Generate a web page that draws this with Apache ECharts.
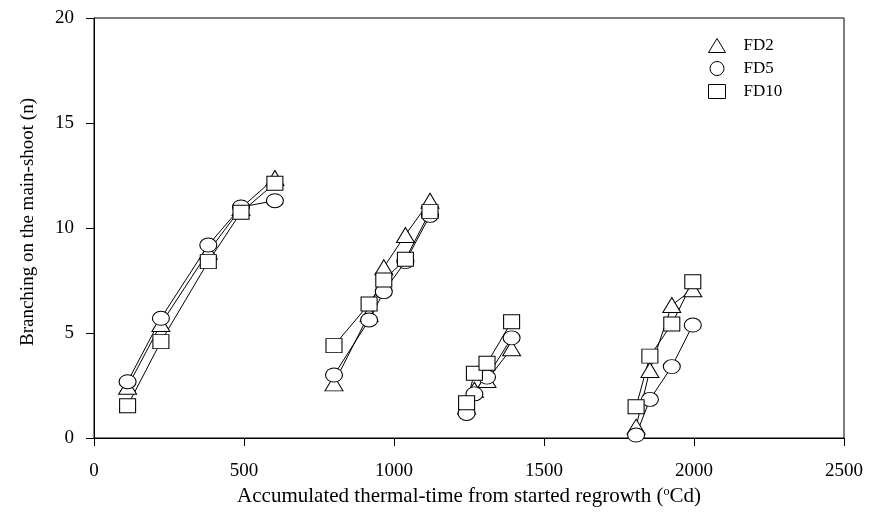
<!DOCTYPE html>
<html>
<head>
<meta charset="utf-8">
<script src="https://cdn.jsdelivr.net/npm/echarts@6/dist/echarts.min.js"></script>
<style>html,body{margin:0;padding:0;background:#fff}#c{width:869px;height:516px}</style>
</head>
<body>
<div id="c"></div>
<script>
// Accumulated thermal time (°Cd) for each regrowth cycle
const cycleX = [
  [112, 223, 381, 490, 603],
  [800, 917, 966, 1038, 1120],
  [1242, 1268, 1310, 1392],
  [1807, 1853, 1926, 1996]
];
// Branching on the main shoot (n)
const fd2 = [
  [2.44, 5.43, 8.87, 10.95, 12.38],
  [2.60, 5.90, 8.13, 9.67, 11.30],
  [1.50, 2.30, 2.76, 4.27],
  [0.54, 3.24, 6.33, 7.08]
];
const fd5 = [
  [2.68, 5.70, 9.19, 11.00, 11.30],
  [3.00, 5.62, 6.97, 8.40, 10.60],
  [1.17, 2.10, 2.90, 4.77],
  [0.14, 1.84, 3.40, 5.38]
];
const fd10 = [
  [1.54, 4.59, 8.40, 10.75, 12.13],
  [4.40, 6.38, 7.52, 8.51, 10.78],
  [1.68, 3.08, 3.56, 5.54],
  [1.49, 3.90, 5.43, 7.44]
];
const xTicks = [0, 500, 1000, 1500, 2000, 2500];
const yTicks = [0, 5, 10, 15, 20];

const FONT = 'Liberation Serif';
const groups = [
  {name: 'FD2', vals: fd2, symbol: 'triangle', size: [18, 15]},
  {name: 'FD5', vals: fd5, symbol: 'circle', size: [17, 14]},
  {name: 'FD10', vals: fd10, symbol: 'rect', size: [16, 14]}
];
const series = [];
groups.forEach(g => {
  g.vals.forEach((ys, ci) => {
    series.push({
      type: 'line',
      name: g.name,
      data: ys.map((y, i) => [cycleX[ci][i], y]),
      symbol: g.symbol,
      symbolSize: g.size,
      showAllSymbol: true,
      lineStyle: {color: '#000', width: 1},
      itemStyle: {color: '#fff', borderColor: '#000', borderWidth: 1},
      animation: false
    });
  });
});

const chart = echarts.init(document.getElementById('c'), null, {renderer: 'canvas'});
chart.setOption({
  animation: false,
  backgroundColor: '#fff',
  grid: {left: 94, right: 25, top: 18, bottom: 78, show: true, borderColor: '#000', borderWidth: 1, backgroundColor: 'transparent'},
  legend: {
    orient: 'vertical', left: 703, top: 32,
    itemWidth: 17, itemHeight: 14, itemGap: 6,
    textStyle: {fontFamily: FONT, fontSize: 17, color: '#000', padding: [0, 0, 0, 13]},
    data: groups.map(g => ({name: g.name, icon: g.symbol, itemStyle: {color: '#fff', borderColor: '#000', borderWidth: 1}}))
  },
  xAxis: {
    type: 'value', min: xTicks[0], max: xTicks[xTicks.length - 1], interval: 500,
    name: 'Accumulated thermal-time from started regrowth ({sup|o}Cd)',
    nameLocation: 'middle', nameGap: 39,
    nameTextStyle: {fontFamily: FONT, fontSize: 21, color: '#000',
      rich: {sup: {fontFamily: FONT, fontSize: 12, color: '#000', verticalAlign: 'top', padding: [0, 0, 9, 0]}}},
    axisLine: {lineStyle: {color: '#000', width: 1}},
    axisTick: {show: true, inside: false, length: 8, lineStyle: {color: '#000'}},
    axisLabel: {fontFamily: FONT, fontSize: 19, color: '#000', margin: 24, formatter: v => String(v)},
    splitLine: {show: false}
  },
  yAxis: {
    type: 'value', min: yTicks[0], max: yTicks[yTicks.length - 1], interval: 5,
    name: 'Branching on the main-shoot (n)',
    nameLocation: 'middle', nameGap: 56, nameRotate: 90,
    nameTextStyle: {fontFamily: FONT, fontSize: 19, color: '#000', padding: [0, 0, 0, 12]},
    axisLine: {lineStyle: {color: '#000', width: 1}},
    axisTick: {show: true, inside: false, length: 8, lineStyle: {color: '#000'}},
    axisLabel: {fontFamily: FONT, fontSize: 19, color: '#000', margin: 20},
    splitLine: {show: false}
  },
  series: series
});
</script>
</body>
</html>
